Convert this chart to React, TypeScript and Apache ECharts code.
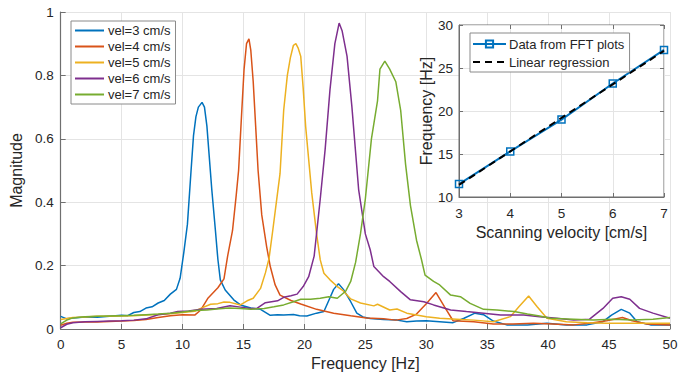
import React, { useEffect, useRef } from "react";
import * as echarts from "echarts";

const FONT = "'Liberation Sans', Arial, Helvetica, sans-serif";

const seriesNames = ["vel=3 cm/s", "vel=4 cm/s", "vel=5 cm/s", "vel=6 cm/s", "vel=7 cm/s"];
const seriesColors = ["#0072BD", "#D95319", "#EDB120", "#7E2F8E", "#77AC30"];

const vel3 = [
  [0, 0.04], [0.5, 0.032], [1, 0.035], [2, 0.038], [3, 0.037], [4, 0.04], [5, 0.043], [5.5, 0.042],
  [6, 0.052], [6.5, 0.055], [7, 0.066], [7.5, 0.07], [8, 0.082], [8.5, 0.09], [9, 0.11], [9.5, 0.125],
  [9.8, 0.16], [10.1, 0.24], [10.4, 0.33], [10.7, 0.5], [10.9, 0.61], [11.1, 0.67], [11.3, 0.7],
  [11.6, 0.715], [11.8, 0.7], [12.0, 0.64], [12.2, 0.54], [12.4, 0.44], [12.7, 0.31], [12.9, 0.22],
  [13.1, 0.155], [13.5, 0.123], [14.2, 0.092], [14.75, 0.076], [15.6, 0.066], [16.4, 0.062], [17.2, 0.043],
  [17.8, 0.045], [18.3, 0.044], [19.1, 0.046], [19.6, 0.042], [20.2, 0.041], [21, 0.05], [21.6, 0.055],
  [22.0, 0.09], [22.4, 0.125], [22.8, 0.143], [23.2, 0.125], [23.8, 0.086], [24.3, 0.05], [24.8, 0.038],
  [25.4, 0.033], [26.5, 0.03], [27.6, 0.028], [28.4, 0.023], [29.2, 0.025], [30, 0.026], [31.1, 0.023],
  [32.2, 0.02], [33.1, 0.034], [34, 0.05], [34.7, 0.045], [35.5, 0.025], [36.6, 0.013], [38.3, 0.013],
  [39.9, 0.018], [41.5, 0.013], [43.2, 0.013], [44.5, 0.023], [45.2, 0.044], [46.0, 0.062], [46.7, 0.05],
  [47.3, 0.023], [48.4, 0.013], [50, 0.013],
];

const vel4 = [
  [0, 0.012], [0.5, 0.018], [1, 0.021], [2, 0.022], [3, 0.022], [4, 0.024], [5, 0.025], [6, 0.027],
  [7, 0.03], [8, 0.036], [9, 0.042], [10, 0.045], [11, 0.044], [11.5, 0.06], [12.1, 0.098], [12.9, 0.13],
  [13.4, 0.158], [13.7, 0.23], [14.1, 0.31], [14.4, 0.42], [14.6, 0.5], [14.85, 0.68], [15.05, 0.82],
  [15.25, 0.9], [15.45, 0.915], [15.6, 0.88], [15.8, 0.78], [16.0, 0.64], [16.2, 0.5], [16.5, 0.36],
  [16.9, 0.26], [17.2, 0.197], [17.6, 0.139], [18.0, 0.107], [18.9, 0.09], [19.7, 0.079], [21.0, 0.062],
  [22.4, 0.05], [23.8, 0.042], [25.1, 0.035], [26.5, 0.032], [27.5, 0.028], [28.4, 0.033], [29.2, 0.047],
  [30.0, 0.08], [30.8, 0.115], [31.5, 0.07], [32.2, 0.026], [33.9, 0.023], [35.5, 0.016], [37.1, 0.016],
  [38.8, 0.018], [40.4, 0.016], [42.1, 0.013], [43.7, 0.02], [44.8, 0.026], [46.1, 0.036], [46.9, 0.026],
  [48.1, 0.016], [50, 0.013],
];

const vel5 = [
  [0, 0.03], [0.5, 0.033], [1, 0.036], [2, 0.038], [3, 0.04], [4, 0.04], [5, 0.041], [6, 0.042],
  [7, 0.044], [8, 0.046], [9, 0.048], [10, 0.052], [11, 0.056], [11.5, 0.065], [12.3, 0.078], [12.9, 0.08],
  [13.4, 0.085], [13.9, 0.084], [14.75, 0.076], [15.3, 0.089], [15.8, 0.097], [16.4, 0.128], [16.8, 0.177],
  [17.1, 0.223], [17.4, 0.31], [17.7, 0.4], [18.0, 0.49], [18.3, 0.69], [18.6, 0.8], [18.85, 0.856],
  [19.1, 0.895], [19.3, 0.9], [19.5, 0.885], [19.7, 0.86], [19.9, 0.76], [20.1, 0.64], [20.6, 0.43],
  [21.0, 0.3], [21.3, 0.218], [21.6, 0.176], [22.1, 0.155], [22.7, 0.134], [23.2, 0.12], [23.8, 0.095],
  [24.6, 0.082], [25.7, 0.073], [26, 0.078], [27, 0.06], [27.6, 0.063], [28.4, 0.05], [30, 0.039],
  [31.1, 0.034], [32.5, 0.031], [33.9, 0.028], [35.5, 0.023], [36.9, 0.039], [37.6, 0.07], [38.4, 0.104],
  [39.1, 0.07], [39.9, 0.034], [41.5, 0.023], [43.2, 0.02], [44.8, 0.018], [46.4, 0.018], [48.1, 0.018],
  [50, 0.018],
];

const vel6 = [
  [0, 0.004], [0.5, 0.015], [1, 0.02], [2, 0.023], [3, 0.024], [4, 0.025], [5, 0.026], [6, 0.028],
  [7, 0.032], [8, 0.045], [9, 0.05], [9.6, 0.055], [10.5, 0.057], [11.5, 0.062], [12.8, 0.065],
  [13.9, 0.073], [14.75, 0.069], [15.6, 0.065], [16.1, 0.065], [16.8, 0.083], [17.8, 0.089], [18.3, 0.1],
  [18.9, 0.105], [19.4, 0.11], [19.9, 0.134], [20.35, 0.165], [20.8, 0.23], [21.3, 0.41], [21.7, 0.566],
  [22.1, 0.755], [22.5, 0.9], [22.85, 0.965], [23.1, 0.94], [23.5, 0.86], [23.9, 0.7], [24.45, 0.44],
  [25.0, 0.3], [25.4, 0.25], [25.7, 0.197], [26.5, 0.165], [27, 0.15], [27.9, 0.118], [28.7, 0.092],
  [29.8, 0.086], [30.6, 0.076], [32, 0.06], [33.3, 0.055], [34.7, 0.05], [36.1, 0.044], [38, 0.044],
  [39.3, 0.039], [40.7, 0.034], [42.1, 0.028], [43.4, 0.031], [44.5, 0.065], [45.3, 0.097], [46, 0.102],
  [46.7, 0.094], [47.5, 0.065], [48.6, 0.05], [50, 0.034],
];

const vel7 = [
  [0, 0.016], [0.5, 0.028], [1, 0.035], [2, 0.039], [3, 0.04], [4, 0.041], [5, 0.042], [6, 0.043],
  [7, 0.045], [8, 0.047], [9, 0.05], [10, 0.054], [11, 0.058], [12, 0.06], [12.8, 0.063], [13.8, 0.066],
  [14.75, 0.065], [15.6, 0.062], [16.7, 0.065], [17.5, 0.07], [18.3, 0.076], [19.1, 0.086], [19.7, 0.094],
  [20.5, 0.094], [21.3, 0.097], [22, 0.102], [22.7, 0.097], [23.4, 0.12], [23.8, 0.15], [24.2, 0.21],
  [24.6, 0.3], [25.0, 0.41], [25.5, 0.6], [26.0, 0.72], [26.2, 0.82], [26.6, 0.845], [27.0, 0.82],
  [27.5, 0.78], [27.9, 0.69], [28.3, 0.52], [28.7, 0.39], [29.2, 0.28], [29.6, 0.22], [29.9, 0.17],
  [30.6, 0.15], [31.1, 0.139], [32, 0.107], [32.8, 0.102], [33.6, 0.081], [34.7, 0.062], [35.8, 0.06],
  [37.2, 0.055], [38.3, 0.047], [39.3, 0.041], [40.2, 0.034], [42.1, 0.031], [43.7, 0.028], [45.3, 0.031],
  [46.9, 0.028], [48.6, 0.031], [50, 0.036],
];

const spectra = [vel3, vel4, vel5, vel6, vel7];

// Inset data
const velocities = [3, 4, 5, 6, 7];
const fftFrequencies = [11.5, 15.3, 19.0, 23.2, 27.1];
const regressionX = [3, 7];
const regressionY = [11.4, 27.0];

const TEXT = "#262626";
const AXIS = "#6f6f6f";
const GRID = "#e4e4e4";

export default function App() {
  const ref = useRef<HTMLDivElement>(null);

  useEffect(() => {
    if (!ref.current) return;
    const chart = echarts.init(ref.current, null, { renderer: "svg" });

    const mainSeries = spectra.map((d, i) => ({
      name: seriesNames[i],
      type: "line",
      xAxisIndex: 0,
      yAxisIndex: 0,
      data: d,
      symbol: "none",
      color: seriesColors[i],
      lineStyle: { width: 1.5, color: seriesColors[i] },
      z: 2,
    }));

    const option: any = {
      animation: false,
      backgroundColor: "#ffffff",
      textStyle: { fontFamily: FONT },
      grid: [
        { left: 60, top: 12, right: 16, bottom: 48, containLabel: false },
        {
          left: 459, top: 25, width: 205, height: 172,
          show: true, backgroundColor: "#ffffff", borderColor: AXIS, borderWidth: 1, z: 10,
        },
      ],
      legend: [
        {
          data: seriesNames.map((n) => ({ name: n, itemStyle: { opacity: 0 } })),
          orient: "vertical",
          left: 71,
          top: 21,
          itemWidth: 29,
          itemHeight: 14,
          itemGap: 3,
          padding: [3, 5, 3, 3],
          backgroundColor: "#ffffff",
          borderColor: "#8a8a8a",
          borderWidth: 1,
          borderRadius: 0,
          selectedMode: false,
          lineStyle: { width: 2 },
          textStyle: { fontSize: 13, color: TEXT, fontFamily: FONT, padding: [0, 0, 0, -1] },
          z: 6,
        },
        {
          data: [
            { name: "Data from FFT plots" },
            { name: "Linear regression", itemStyle: { opacity: 0 } },
          ],
          orient: "vertical",
          left: 470,
          top: 33,
          itemWidth: 33,
          itemHeight: 9,
          itemGap: 4,
          padding: [4, 5, 3, 2],
          backgroundColor: "#ffffff",
          borderColor: "#8a8a8a",
          borderWidth: 1,
          borderRadius: 0,
          selectedMode: false,
          textStyle: { fontSize: 13, color: TEXT, fontFamily: FONT, padding: [0, 0, 0, -2], lineHeight: 14 },
          z: 20,
        },
      ],
      xAxis: [
        {
          type: "value", gridIndex: 0, min: 0, max: 50, interval: 5,
          name: "Frequency [Hz]", nameLocation: "middle", nameGap: 24,
          nameTextStyle: { fontSize: 16, color: TEXT, fontFamily: FONT },
          axisLine: { show: true, onZero: false, lineStyle: { color: AXIS, width: 1.2 } },
          axisTick: { show: true, inside: true, length: 5, lineStyle: { color: AXIS } },
          axisLabel: { fontSize: 13.5, color: TEXT, margin: 8, fontFamily: FONT },
          splitLine: { show: true, lineStyle: { color: GRID, width: 1 } },
        },
        {
          type: "value", gridIndex: 1, min: 3, max: 7, interval: 1,
          name: "Scanning velocity [cm/s]", nameLocation: "middle", nameGap: 27,
          nameTextStyle: { fontSize: 16, color: TEXT, fontFamily: FONT },
          axisLine: { show: true, onZero: false, lineStyle: { color: AXIS, width: 1 } },
          axisTick: { show: true, inside: true, length: 4, lineStyle: { color: AXIS } },
          axisLabel: { fontSize: 13.5, color: TEXT, margin: 9, fontFamily: FONT },
          splitLine: { show: true, lineStyle: { color: GRID, width: 1 } },
          z: 11,
        },
        {
          type: "value", gridIndex: 1, min: 3, max: 7, interval: 1, position: "top",
          axisLine: { show: false },
          axisTick: { show: true, inside: true, length: 4, lineStyle: { color: AXIS } },
          axisLabel: { show: false },
          splitLine: { show: false },
          z: 11,
        },
      ],
      yAxis: [
        {
          type: "value", gridIndex: 0, min: 0, max: 1, interval: 0.2,
          name: "Magnitude", nameLocation: "middle", nameGap: 27,
          nameTextStyle: { fontSize: 16, color: TEXT, fontFamily: FONT },
          axisLine: { show: true, onZero: false, lineStyle: { color: AXIS, width: 1.2 } },
          axisTick: { show: true, inside: true, length: 5, lineStyle: { color: AXIS } },
          axisLabel: { fontSize: 13.5, color: TEXT, margin: 7, fontFamily: FONT },
          splitLine: { show: true, lineStyle: { color: GRID, width: 1 } },
        },
        {
          type: "value", gridIndex: 1, min: 10, max: 30, interval: 5,
          name: "Frequency [Hz]", nameLocation: "middle", nameGap: 24,
          nameTextStyle: { fontSize: 16, color: TEXT, fontFamily: FONT },
          axisLine: { show: true, onZero: false, lineStyle: { color: AXIS, width: 1 } },
          axisTick: { show: true, inside: true, length: 4, lineStyle: { color: AXIS } },
          axisLabel: { fontSize: 13.5, color: TEXT, margin: 6, fontFamily: FONT },
          splitLine: { show: true, lineStyle: { color: GRID, width: 1 } },
          z: 11,
        },
        {
          type: "value", gridIndex: 1, min: 10, max: 30, interval: 5, position: "right",
          axisLine: { show: false },
          axisTick: { show: true, inside: true, length: 4, lineStyle: { color: AXIS } },
          axisLabel: { show: false },
          splitLine: { show: false },
          z: 11,
        },
      ],
      series: [
        ...mainSeries,
        {
          name: "Data from FFT plots",
          type: "line",
          xAxisIndex: 1,
          yAxisIndex: 1,
          data: velocities.map((v, i) => [v, fftFrequencies[i]]),
          symbol: "rect",
          symbolSize: 7,
          showSymbol: true,
          color: "#0072BD",
          itemStyle: { color: "rgba(255,255,255,0)", borderColor: "#0072BD", borderWidth: 1.5 },
          lineStyle: { color: "#0072BD", width: 2 },
          z: 12,
        },
        {
          name: "Linear regression",
          type: "line",
          xAxisIndex: 1,
          yAxisIndex: 1,
          data: regressionX.map((v, i) => [v, regressionY[i]]),
          symbol: "none",
          color: "#000000",
          lineStyle: { color: "#000000", width: 2, type: [7, 5] },
          z: 13,
        },
      ],
    };

    chart.setOption(option);
    return () => chart.dispose();
  }, []);

  return (
    <div
      ref={ref}
      style={{ position: "fixed", left: 0, top: 0, width: 686, height: 377, background: "#fff" }}
    />
  );
}
